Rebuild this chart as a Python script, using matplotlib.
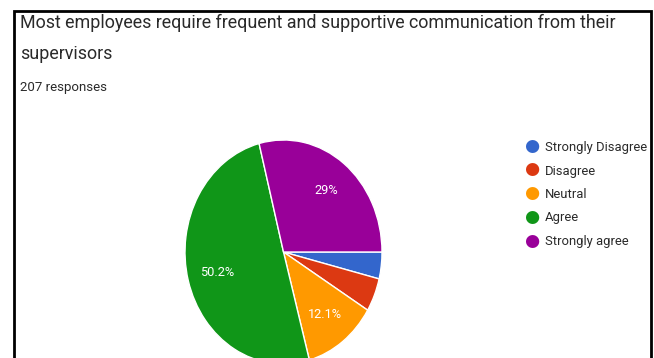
import matplotlib.pyplot as plt
from matplotlib.patches import Rectangle

# Survey answers (207 responses)
categories = ["Strongly Disagree", "Disagree", "Neutral", "Agree", "Strongly agree"]
counts = [8, 10, 25, 104, 60]
colors = ["#3366cc", "#dc3912", "#ff9900", "#109618", "#990099"]

title_lines = ["Most employees require frequent and supportive communication from their",
               "supervisors"]
subtitle = "207 responses"

plt.rcParams['font.family'] = ['Roboto', 'DejaVu Sans']

W, H = 654, 358
fig = plt.figure(figsize=(W / 100, H / 100), dpi=100)
fig.patch.set_facecolor("white")


def fx(px):
    return px / W


def fy(py):
    return 1 - py / H


# black frame around the card
fig.add_artist(Rectangle((fx(14), -0.05), fx(651) - fx(14), fy(11) + 0.05,
                         transform=fig.transFigure, fill=False,
                         edgecolor="black", linewidth=2))

for line, base in zip(title_lines, [28, 59]):
    fig.text(fx(20), fy(base), line, ha="left", va="baseline",
             fontsize=12.9, color="#2a2a2a")
fig.text(fx(20), fy(91), subtitle, ha="left", va="baseline",
         fontsize=9.5, color="#2a2a2a")


def pct_label(p):
    if p < 6:
        return ""
    s = f"{p:.1f}"
    if s.endswith(".0"):
        s = s[:-2]
    return s + "%"


# pie stretched vertically, bottom runs off the card
ax = fig.add_axes([fx(185), fy(364), fx(382) - fx(185), fy(140) - fy(364)])
wedges, texts, autotexts = ax.pie(
    counts, colors=colors, startangle=0, counterclock=False,
    autopct=pct_label, pctdistance=0.7,
    wedgeprops=dict(edgecolor="white", linewidth=1),
    textprops=dict(color="white", fontsize=9.2))
ax.set_aspect("auto")
ax.set_xlim(-1, 1)
ax.set_ylim(-1, 1)

# legend drawn as a column of dots and labels
legend_y = [147, 171, 194, 218, 242]
for name, c, y in zip(categories, colors, legend_y):
    fig.text(fx(532), fy(y - 1), "\u25cf", color=c, fontsize=12.5,
             ha="center", va="center")
    fig.text(fx(545), fy(y), name, color="#2a2a2a", fontsize=9.4,
             ha="left", va="center")

fig.savefig("out.png", dpi=100)
